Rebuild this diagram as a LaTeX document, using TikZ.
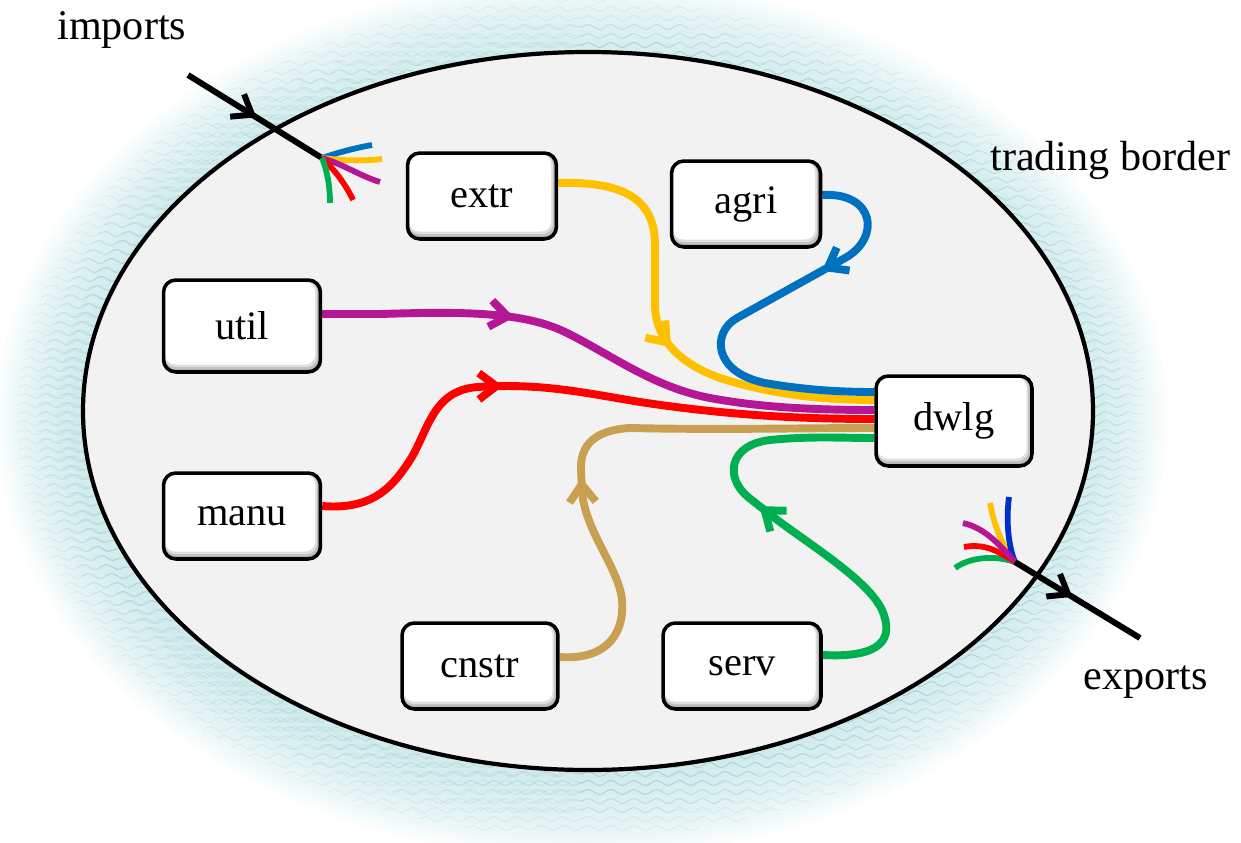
\documentclass[tikz,border=0pt]{standalone}
\usepackage{fontspec}
\setmainfont{Liberation Serif}
\usetikzlibrary{arrows.meta,decorations.markings,decorations.pathmorphing,calc}
\definecolor{fillgray}{RGB}{242,242,242}
\definecolor{halocol}{RGB}{190,228,230}
\definecolor{wavecol}{RGB}{120,160,165}
\definecolor{cblue}{RGB}{0,112,192}
\definecolor{cyellow}{RGB}{255,192,0}
\definecolor{cpurple}{RGB}{180,22,150}
\definecolor{cred}{RGB}{255,0,0}
\definecolor{ctan}{RGB}{201,160,82}
\definecolor{cgreen}{RGB}{0,176,80}
\definecolor{cdblue}{RGB}{0,48,204}
\pgfdeclarelayer{back}
\pgfdeclarelayer{flows}
\pgfsetlayers{back,flows,main}
\begin{document}
\begin{tikzpicture}[x=0.02cm,y=-0.02cm,
  sectorbox/.style={draw=black, line width=2pt, rounded corners=7pt,
    inner sep=0pt, fill=gray!75,
    font=\fontsize{23}{27}\selectfont,
    path picture={
      \fill[gray!50, rounded corners=6pt]
        ([shift={(0.5pt,1.4pt)}]path picture bounding box.south west) rectangle
        ([shift={(-1.0pt,-0.4pt)}]path picture bounding box.north east);
      \fill[gray!25, rounded corners=6pt]
        ([shift={(0.7pt,2.8pt)}]path picture bounding box.south west) rectangle
        ([shift={(-2.0pt,-0.6pt)}]path picture bounding box.north east);
      \fill[white, rounded corners=6pt]
        ([shift={(0.9pt,4.2pt)}]path picture bounding box.south west) rectangle
        ([shift={(-3.0pt,-0.8pt)}]path picture bounding box.north east);
    }},
  outerlabel/.style={inner sep=0pt, anchor=base west, font=\fontsize{24}{28}\selectfont},
  flow/.style={line width=4.5pt},
  fan/.style={line width=3.3pt},
  trade/.style={line width=3.4pt, draw=black},
  barb/.style={postaction={decorate}, decoration={markings,
    mark=at position #1 with {\arrow{Straight Barb[length=10pt,width=15pt]}}}},
  wave/.style={draw=wavecol, line width=0.5pt, draw opacity=0.14,
    decorate, decoration={snake, amplitude=1.4pt, segment length=13pt}},
]
\useasboundingbox (0,0) rectangle (1241,842);

% soft textured halo and the trading border
\begin{pgfonlayer}{back}
  \foreach \i in {1,...,16}{
    \fill[halocol, opacity=0.07] (582,418) ellipse [x radius={505+\i*5}, y radius={359+\i*5}];
  }
  % wavy texture, in three bands that thin out away from the border
  \foreach \r in {20,40,60}{
    \foreach \yy in {0,9,...,846}{
      \pgfmathsetmacro\dy{\yy-418}
      \pgfmathsetmacro\ro{359+\r}
      \pgfmathsetmacro\xo{(505+\r)*sqrt(max(0,1-(\dy/\ro)^2))}
      \pgfmathsetmacro\xi{495*sqrt(max(0,1-(\dy/349)^2))}
      \ifdim\xo pt>\xi pt
        \draw[wave] ({582-\xo},\yy) -- ({582-\xi+1},\yy);
        \draw[wave] ({582+\xi-1},\yy) -- ({582+\xo},\yy);
      \fi
    }
  }
  \fill[fillgray, draw=black, line width=2.4pt] (588,411) ellipse [x radius=505, y radius=359];
\end{pgfonlayer}

% sectors
\node[sectorbox, minimum width=2.98cm, minimum height=1.72cm] (extr) at (482,196) {extr};
\node[sectorbox, minimum width=2.98cm, minimum height=1.72cm] (agri) at (746,204) {agri};
\node[sectorbox, minimum width=3.14cm, minimum height=1.84cm] (util) at (242,326) {util};
\node[sectorbox, minimum width=3.14cm, minimum height=1.72cm] (manu) at (242,516) {manu};
\node[sectorbox, minimum width=3.12cm, minimum height=1.80cm] (dwlg) at (954,421) {dwlg};
\node[sectorbox, minimum width=3.12cm, minimum height=1.72cm] (cnstr) at (480,666) {cnstr};
\node[sectorbox, minimum width=3.16cm, minimum height=1.72cm] (serv) at (742,666) {serv};

% labels
\node[outerlabel] (imp) at (57,39) {imports};
\node[outerlabel] (brd) at (990,170) {trading border};
\node[outerlabel] (exp) at (1083,689) {exports};

% trade end points
\coordinate (impA) at (188,75);
\coordinate (impB) at (322,158);
\coordinate (expA) at (1015,562);
\coordinate (expB) at (1140,638);

\begin{pgfonlayer}{flows}
  % flows into the dwelling sector
  \draw[flow, cyellow, barb=0.526] ($(extr.east)+(0,-13)$)
    .. controls (625,181) and (655,200) .. (655,245) -- (655,305)
    .. controls (655,335) and (675,362) .. (720,378)
    .. controls (770,394) and (820,400) .. ($(dwlg.west)+(0,-21)$);
  \draw[flow, cblue, barb=0.30] ($(agri.east)+(0,-9)$)
    .. controls (875,192) and (881,238) .. (845,258) -- (737,318)
    .. controls (712,332) and (712,372) .. (765,383)
    .. controls (805,390) and (840,392) .. ($(dwlg.west)+(0,-29)$);
  \draw[flow, cpurple, barb=0.337] ($(util.east)+(0,-12)$) -- (380,314)
    .. controls (450,312) and (520,310) .. (565,332)
    .. controls (610,354) and (650,385) .. (705,397)
    .. controls (760,408) and (820,410) .. ($(dwlg.west)+(0,-11)$);
  \draw[flow, cred, barb=0.388] ($(manu.east)+(0,-10)$)
    .. controls (372,510) and (392,488) .. (410,460)
    .. controls (428,432) and (432,390) .. (478,387)
    .. controls (540,383) and (580,392) .. (640,402)
    .. controls (720,414) and (790,419) .. ($(dwlg.west)+(0,-2)$);
  \draw[flow, ctan, barb=0.413] ($(cnstr.east)+(0,-9)$)
    .. controls (600,660) and (625,640) .. (622,600)
    .. controls (619,568) and (584,530) .. (582,490) -- (581,470)
    .. controls (580,445) and (595,430) .. (630,428)
    .. controls (720,430) and (800,428) .. ($(dwlg.west)+(0,7)$);
  \draw[flow, cgreen, barb=0.56] ($(serv.east)+(0,-11)$)
    .. controls (880,658) and (895,640) .. (882,610)
    .. controls (868,580) and (810,545) .. (772,516) -- (748,497)
    .. controls (725,478) and (728,445) .. (770,440)
    .. controls (810,436) and (840,438) .. ($(dwlg.west)+(0,17)$);

  % imports across the border
  \draw[trade, barb=0.51] (impA) -- (impB);
  \draw[fan, cblue]   (impB) .. controls (340,152) and (355,148) .. (372,145);
  \draw[fan, cyellow] (impB) .. controls (345,161) and (365,161) .. (382,159);
  \draw[fan, cpurple] (impB) .. controls (345,165) and (360,176) .. (380,182);
  \draw[fan, cred]    (impB) .. controls (335,170) and (346,185) .. (353,200);
  \draw[fan, cgreen]  (impB) .. controls (327,170) and (330,186) .. (330,203);

  % exports across the border
  \draw[fan, cgreen]  (955,568) .. controls (970,557) and (995,555) .. (expA);
  \draw[fan, cyellow] (990,503) .. controls (995,530) and (1005,550) .. (expA);
  \draw[fan, cdblue]  (1009,497) .. controls (1006,520) and (1008,545) .. (expA);
  \draw[fan, cred]    (964,547) .. controls (985,543) and (1000,552) .. (expA);
  \draw[fan, cpurple] (963,523) .. controls (985,528) and (1000,545) .. (expA);
  \draw[trade, barb=0.46] (expA) -- (expB);
\end{pgfonlayer}
\end{tikzpicture}
\end{document}
